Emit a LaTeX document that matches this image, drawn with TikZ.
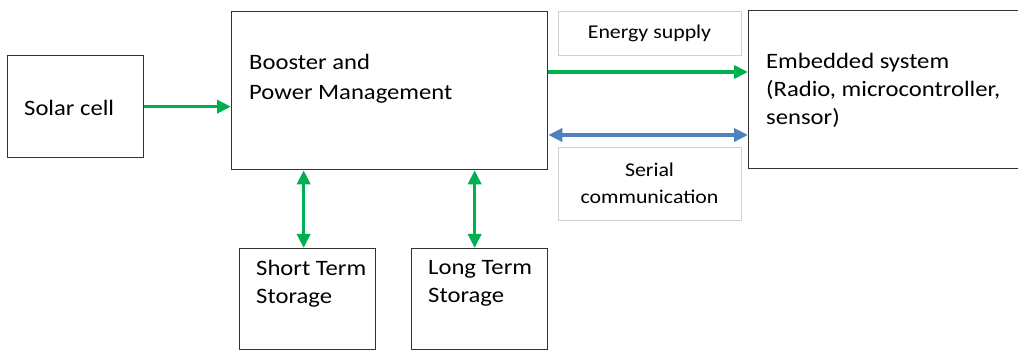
\documentclass[tikz,border=0pt]{standalone}
\usepackage{fontspec}
\setmainfont{Carlito}[FakeStretch=1.12]
\usetikzlibrary{arrows.meta}

\definecolor{powergreen}{RGB}{0,176,80}
\definecolor{busblue}{RGB}{79,129,189}

\tikzset{
	block/.style={draw=black!80, line width=1.3pt, inner sep=0pt},
	tag/.style={draw=black!18, line width=0.8pt, align=center, inner sep=0pt,
		font=\fontsize{19.5}{27}\selectfont},
	blocktext/.style={anchor=west, align=left, inner sep=0pt,
		font=\fontsize{22}{28}\selectfont},
	power/.style={powergreen, line width=3.5pt, -{Triangle[length=14pt,width=13pt]}},
	powerboth/.style={powergreen, line width=3.5pt, {Triangle[length=14pt,width=13pt]}-{Triangle[length=14pt,width=13pt]}},
	serial/.style={busblue, line width=3.5pt, {Triangle[length=14pt,width=13pt]}-{Triangle[length=14pt,width=13pt]}}
}

\begin{document}
\begin{tikzpicture}[x=1pt,y=-1pt]

		\useasboundingbox (0,0) rectangle (1018,352);

		% blocks
		\node [block, anchor=north west, minimum width=136, minimum height=102] (solar)    at (7,55)    {};
		\node [block, anchor=north west, minimum width=316, minimum height=158] (booster)  at (231,11)  {};
		\node [block, anchor=north west, minimum width=290, minimum height=158] (embedded) at (748,10)  {};
		\node [block, anchor=north west, minimum width=136, minimum height=101] (shortst)  at (239,248) {};
		\node [block, anchor=north west, minimum width=136, minimum height=101] (longst)   at (411,248) {};

		% texts in the blocks
		\node [blocktext] (solartext)    at (24,108)    {Solar cell};
		\node [blocktext, font=\fontsize{22}{30}\selectfont] (boostertext) at (249,79) {Booster and\\Power Management};
		\node [blocktext] (embeddedtext) at (766,90.5)  {Embedded system\\(Radio, microcontroller,\\sensor)};
		\node [blocktext] (shorttext)    at (256,283.5) {Short Term\\Storage};
		\node [blocktext] (longtext)     at (428,283.5) {Long Term\\Storage};

		% link labels
		\node [tag, minimum width=183, minimum height=44] (energytag) at (649.5,33)    {Energy supply};
		\node [tag, minimum width=183, minimum height=73] (serialtag) at (649.5,183.5) {Serial\\communication};

		% links
		\draw [power] (solar.east) -- (booster.west |- solar.east);
		\draw [power] (booster.east |- 0,72) -- (embedded.west |- 0,72);
		\draw [serial] (booster.east |- 0,135) -- (embedded.west |- 0,135);
		\draw [powerboth] ([xshift=-4pt]booster.south -| shortst.north) -- ([xshift=-4pt]shortst.north);
		\draw [powerboth] ([xshift=-5pt]booster.south -| longst.north) -- ([xshift=-5pt]longst.north);

	\end{tikzpicture}
\end{document}
